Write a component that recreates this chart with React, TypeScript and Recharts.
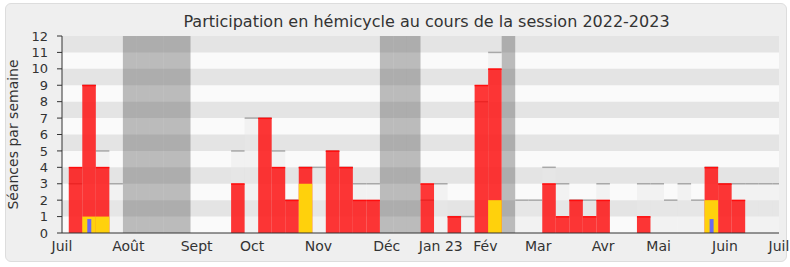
import { Bar, BarChart, ReferenceArea, XAxis, YAxis } from "recharts";

// weeks from early July 2022 (0) to early July 2023 (53)
const weeks = Array.from({ length: 54 }, (_, i) => i);

const presences = [
  0, 4, 9, 4, 0, 0, 0, 0, 0, 0,
  0, 0, 0, 3, 0, 7, 4, 2, 4, 0,
  5, 4, 2, 2, 0, 0, 0, 3, 0, 1,
  0, 9, 10, 0, 0, 0, 3, 1, 2, 1,
  2, 0, 0, 1, 0, 0, 0, 0, 4, 3,
  2, 0, 0, 0,
];

const seances = [
  0, 3, 9, 5, 3, 0, 0, 0, 0, 0,
  0, 0, 0, 5, 7, 7, 5, 2, 4, 4,
  5, 4, 3, 3, 0, 0, 0, 2, 3, 1,
  1, 8, 11, 0, 2, 2, 4, 3, 2, 2,
  3, 0, 0, 3, 3, 2, 3, 2, 4, 3,
  3, 3, 3, 3,
];

const questions = [
  0, 0, 1, 1, 0, 0, 0, 0, 0, 0,
  0, 0, 0, 0, 0, 0, 0, 0, 3, 0,
  0, 0, 0, 0, 0, 0, 0, 0, 0, 0,
  0, 0, 2, 0, 0, 0, 0, 0, 0, 0,
  0, 0, 0, 0, 0, 0, 0, 0, 2, 0,
  0, 0, 0, 0,
];

const interventions = [
  0, 0, 0.85, 0, 0, 0, 0, 0, 0, 0,
  0, 0, 0, 0, 0, 0, 0, 0, 0, 0,
  0, 0, 0, 0, 0, 0, 0, 0, 0, 0,
  0, 0, 0, 0, 0, 0, 0, 0, 0, 0,
  0, 0, 0, 0, 0, 0, 0, 0, 0.85, 0,
  0, 0, 0, 0,
];

const vacances = [
  0, 0, 0, 0, 0, 12, 12, 12, 12, 12,
  0, 0, 0, 0, 0, 0, 0, 0, 0, 0,
  0, 0, 0, 0, 12, 12, 12, 0, 0, 0,
  0, 0, 0, 12, 0, 0, 0, 0, 0, 0,
  0, 0, 0, 0, 0, 0, 0, 0, 0, 0,
  0, 0, 0, 0,
];

const monthTicks = [0, 4.9, 9.95, 14.05, 18.95, 24, 28, 31.3, 35.2, 40, 44.1, 49, 53];
const monthLabels = ["Juil", "Août", "Sept", "Oct", "Nov", "Déc", "Jan 23", "Fév", "Mar", "Avr", "Mai", "Juin", "Juil"];
const yTicks = [0, 1, 2, 3, 4, 5, 6, 7, 8, 9, 10, 11, 12];
const greyBands = [1, 3, 5, 7, 9, 11];

const W = 790;
const H = 267;
const MARGIN = { top: 36, right: 11, bottom: 4, left: 22 };
const Y_AXIS_W = 40;
const PLOT_W = W - MARGIN.left - MARGIN.right - Y_AXIS_W;
const UNIT = PLOT_W / 53;
const FONT = "'DejaVu Sans', Verdana, sans-serif";

const data = weeks.map((w, i) => ({
  w,
  vac: vacances[i] || null,
  tot: seances[i] || null,
  pres: presences[i] || null,
  q: questions[i] || null,
  int: interventions[i] || null,
}));

function VacShape(p: any) {
  if (!p.height || p.height <= 0) return null;
  return <rect x={p.x} y={p.y} width={UNIT} height={p.height} fill="#3c3c3c" fillOpacity={0.33} />;
}

function TotalShape(p: any) {
  if (!p.height || p.height <= 0) return null;
  return (
    <g>
      <rect x={p.x} y={p.y} width={UNIT} height={p.height} fill="#e8e8e8" fillOpacity={0.45} />
      <rect x={p.x} y={p.y - 0.75} width={UNIT} height={1.5} fill="#a8a8a8" />
    </g>
  );
}

function RedShape(p: any) {
  if (!p.height || p.height <= 0) return null;
  return (
    <g>
      <rect x={p.x} y={p.y} width={UNIT} height={p.height} fill="#ff0000" fillOpacity={0.78} />
      <rect x={p.x} y={p.y - 0.5} width={UNIT} height={1.5} fill="#ff0d0d" />
    </g>
  );
}

function YellowShape(p: any) {
  if (!p.height || p.height <= 0) return null;
  return <rect x={p.x} y={p.y} width={UNIT} height={p.height} fill="#ffd10c" />;
}

const hiddenAxis = (id: string) => (
  <XAxis
    key={id}
    xAxisId={id}
    dataKey="w"
    type="number"
    domain={[0, 53]}
    allowDataOverflow
    hide
    height={0}
  />
);

export default function App() {
  return (
    <div style={{ position: "absolute", left: 0, top: 0, width: W, height: H, background: "#ffffff" }}>
      <div
        style={{
          position: "absolute",
          left: 5,
          top: 3,
          width: 780,
          height: 257,
          background: "#efefef",
          border: "1px solid #dddddd",
          borderRadius: 6,
        }}
      />
      <svg width={W} height={40} style={{ position: "absolute", left: 0, top: 0 }}>
        <text x={426.5} y={27} textAnchor="middle" fontFamily={FONT} fontSize={16} fill="#333333">
          Participation en hémicycle au cours de la session 2022-2023
        </text>
      </svg>
      <div style={{ position: "absolute", left: 0, top: 0 }}>
        <BarChart
          width={W}
          height={H}
          data={data}
          margin={MARGIN}
          barCategoryGap={0}
          barGap={0}
        >
          <XAxis
            xAxisId="week"
            dataKey="w"
            type="number"
            domain={[0, 53]}
            ticks={weeks}
            interval={0}
            tick={false}
            tickSize={4}
            tickLine={{ stroke: "#333333" }}
            axisLine={false}
            height={0}
          />
          <XAxis
            xAxisId="top"
            orientation="top"
            dataKey="w"
            type="number"
            domain={[0, 53]}
            ticks={weeks}
            interval={0}
            tick={false}
            tickSize={2}
            tickLine={{ stroke: "#333333" }}
            axisLine={false}
            height={0}
          />
          {hiddenAxis("vac")}
          {hiddenAxis("tot")}
          {hiddenAxis("pres")}
          {hiddenAxis("q")}
          {hiddenAxis("int")}
          <XAxis
            xAxisId="month"
            dataKey="w"
            type="number"
            domain={[0, 53]}
            ticks={monthTicks}
            interval={0}
            tickLine={false}
            tickFormatter={(v: number) => monthLabels[monthTicks.indexOf(v)] ?? ""}
            tick={{ fill: "#333333", fontSize: 14, fontFamily: FONT }}
            axisLine={{ stroke: "#333333" }}
            height={30}
          />
          <YAxis
            yAxisId="left"
            type="number"
            domain={[0, 12]}
            ticks={yTicks}
            interval={0}
            width={Y_AXIS_W}
            tickSize={5}
            tickMargin={9}
            tick={{ fill: "#333333", fontSize: 13, fontFamily: FONT }}
            tickLine={{ stroke: "#333333" }}
            axisLine={{ stroke: "#333333" }}
            label={{
              content: (props: any) => {
                const vb = props.viewBox;
                const cx = vb.x - 9;
                const cy = vb.y + vb.height / 2;
                return (
                  <text
                    x={cx}
                    y={cy}
                    transform={`rotate(-90 ${cx} ${cy})`}
                    textAnchor="middle"
                    dominantBaseline="central"
                    fontFamily={FONT}
                    fontSize={14}
                    fill="#333333"
                  >
                    Séances par semaine
                  </text>
                );
              },
            }}
          />
          <YAxis
            yAxisId="right"
            orientation="right"
            type="number"
            domain={[0, 12]}
            width={0}
            tick={false}
            tickLine={false}
            axisLine={{ stroke: "#d0d0d0" }}
          />
          <ReferenceArea
            xAxisId="month"
            yAxisId="left"
            y1={0}
            y2={12}
            fill="#fafafa"
            fillOpacity={1}
            stroke="none"
          />
          {greyBands.map((b) => (
            <ReferenceArea
              key={b}
              xAxisId="month"
              yAxisId="left"
              y1={b}
              y2={b + 1}
              fill="#e4e4e4"
              fillOpacity={1}
              stroke="none"
            />
          ))}
          <Bar xAxisId="vac" yAxisId="left" dataKey="vac" shape={VacShape} isAnimationActive={false} />
          <Bar xAxisId="tot" yAxisId="left" dataKey="tot" shape={TotalShape} isAnimationActive={false} />
          <Bar xAxisId="pres" yAxisId="left" dataKey="pres" shape={RedShape} isAnimationActive={false} />
          <Bar xAxisId="q" yAxisId="left" dataKey="q" shape={YellowShape} isAnimationActive={false} />
          <Bar
            xAxisId="int"
            yAxisId="left"
            dataKey="int"
            barSize={4}
            fill="#6a6af2"
            isAnimationActive={false}
          />
        </BarChart>
      </div>
    </div>
  );
}
